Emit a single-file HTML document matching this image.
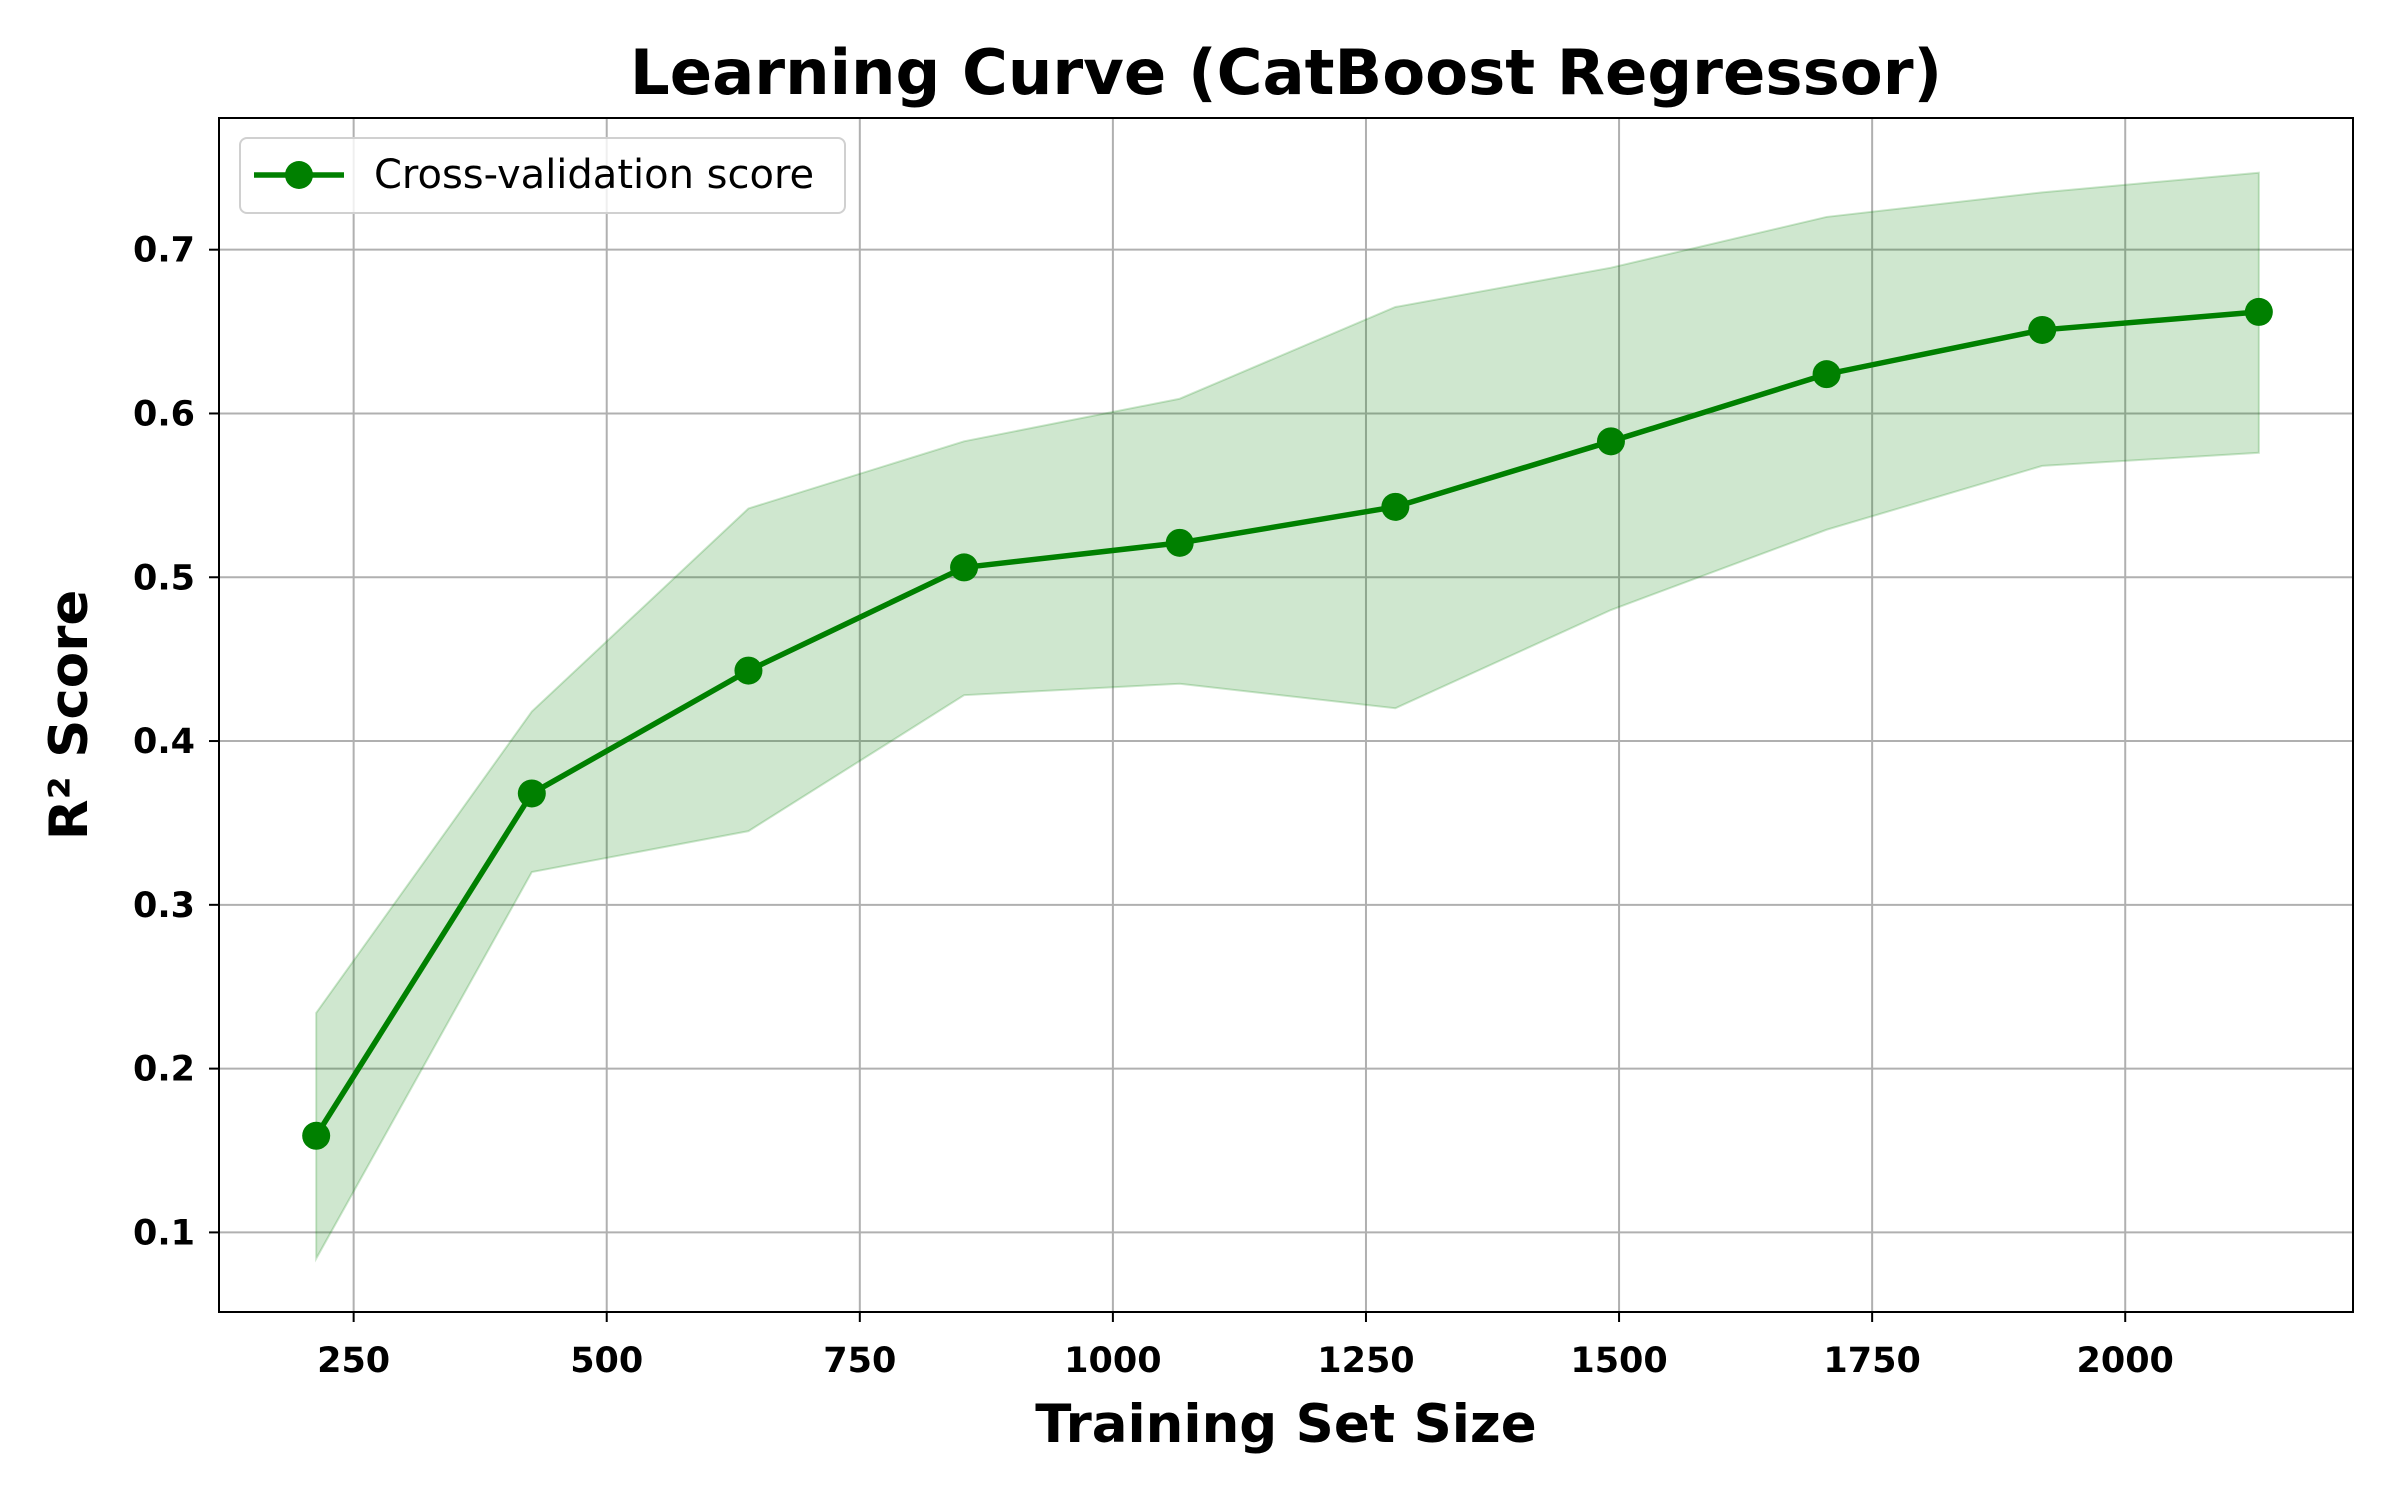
<!DOCTYPE html>
<html><head><meta charset="utf-8"><style>
html,body{margin:0;padding:0;background:#fff;}
svg{display:block;font-family:"DejaVu Sans","Liberation Sans",sans-serif;}
</style></head><body>
<svg id="chart" width="2400" height="1500" viewBox="0 0 2400 1500">
<text x="1286" y="94" text-anchor="middle" font-size="62.5" font-weight="bold">Learning Curve (CatBoost Regressor)</text>
<g id="grid"></g>
<g id="band"></g>
<g id="series"></g>
<rect x="219" y="118" width="2134" height="1194" fill="none" stroke="#000" stroke-width="2"/>
<g id="ticks"></g>
<text x="1286" y="1442" text-anchor="middle" font-size="53" font-weight="bold">Training Set Size</text>
<text transform="translate(87,715) rotate(-90)" text-anchor="middle" font-size="53" font-weight="bold">R² Score</text>
<g>
<rect x="240" y="138" width="605" height="75" rx="7" fill="#fff" fill-opacity="0.8" stroke="#d0d0d0" stroke-width="2"/>
<line x1="254" y1="175" x2="344" y2="175" stroke="#008000" stroke-width="5.5"/>
<circle cx="299" cy="175" r="14" fill="#008000"/>
<text x="374" y="188" font-size="40">Cross-validation score</text>
</g>
</svg>
<script>
const trainSizes = [213, 426, 640, 853, 1066, 1279, 1492, 1705, 1918, 2132];
const meanScores = [0.159, 0.368, 0.443, 0.506, 0.521, 0.543, 0.583, 0.624, 0.651, 0.662];
const upperScores = [0.234, 0.418, 0.542, 0.583, 0.609, 0.665, 0.689, 0.720, 0.735, 0.747];
const lowerScores = [0.084, 0.320, 0.345, 0.428, 0.435, 0.420, 0.480, 0.529, 0.568, 0.576];
const xTicks = [250, 500, 750, 1000, 1250, 1500, 1750, 2000];
const yTicks = [0.1, 0.2, 0.3, 0.4, 0.5, 0.6, 0.7];
const yTickLabels = ["0.1", "0.2", "0.3", "0.4", "0.5", "0.6", "0.7"];

const L=219,R=2353,T=118,B=1312;
const xMin=117,xMax=2225,yMin=0.0514,yMax=0.7804;
const xs=v=>L+(v-xMin)/(xMax-xMin)*(R-L);
const ys=v=>B-(v-yMin)/(yMax-yMin)*(B-T);
const NS="http://www.w3.org/2000/svg";
function mk(tag,attrs,parent){const e=document.createElementNS(NS,tag);for(const k in attrs)e.setAttribute(k,attrs[k]);parent.appendChild(e);return e;}
const grid=document.getElementById('grid'),ticks=document.getElementById('ticks');
xTicks.forEach(t=>{
  const x=xs(t);
  const g=mk('line',{x1:x,y1:T,x2:x,y2:B,stroke:'#b0b0b0','stroke-width':2},grid);
  
  
  const tk=mk('line',{x1:x,y1:B,x2:x,y2:B+10,stroke:'#000','stroke-width':2},ticks);
  
  
  const lb=mk('text',{x:x,y:B+60,'text-anchor':'middle','font-size':35,'font-weight':'bold'},ticks);
  lb.textContent=String(t);
  
  
});
yTicks.forEach((t,i)=>{
  const y=ys(t);
  const g=mk('line',{x1:L,y1:y,x2:R,y2:y,stroke:'#b0b0b0','stroke-width':2},grid);
  
  
  const tk=mk('line',{x1:L-10,y1:y,x2:L,y2:y,stroke:'#000','stroke-width':2},ticks);
  
  
  const lb=mk('text',{x:L-24,y:y+12,'text-anchor':'end','font-size':35,'font-weight':'bold'},ticks);
  lb.textContent=yTickLabels[i];
  
  
});
let pts=trainSizes.map((s,i)=>xs(s)+','+ys(upperScores[i]));
for(let i=trainSizes.length-1;i>=0;i--)pts.push(xs(trainSizes[i])+','+ys(lowerScores[i]));
const band=mk('polygon',{points:pts.join(' '),fill:'#008000','fill-opacity':0.19,stroke:'#008000','stroke-opacity':0.2,'stroke-width':2},document.getElementById('band'));


const ser=document.getElementById('series');
const line=mk('polyline',{points:trainSizes.map((s,i)=>xs(s)+','+ys(meanScores[i])).join(' '),fill:'none',stroke:'#008000','stroke-width':5.5,'stroke-linejoin':'round'},ser);


trainSizes.forEach((s,i)=>{
  const c=mk('circle',{cx:xs(s),cy:ys(meanScores[i]),r:14,fill:'#008000'},ser);
  
  
});
</script>
</body></html>
